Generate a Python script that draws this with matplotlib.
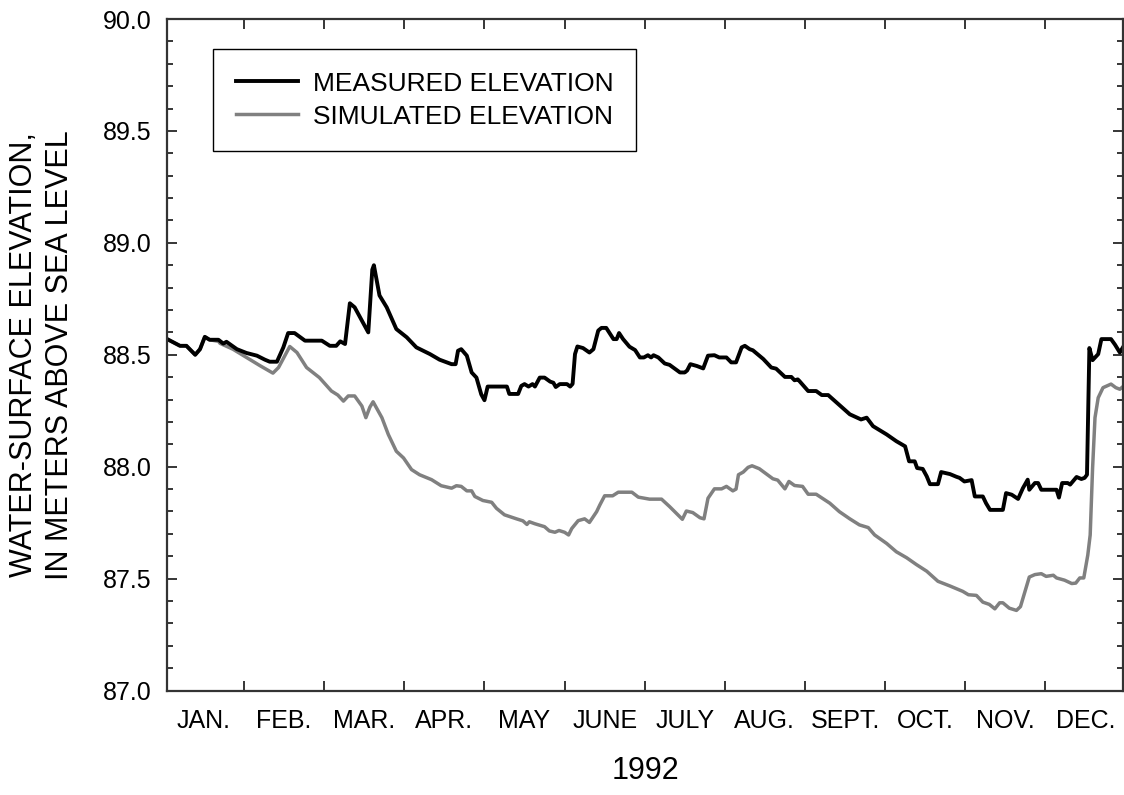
import matplotlib
matplotlib.use("Agg")
import matplotlib.pyplot as plt
from matplotlib.ticker import (FixedLocator, FixedFormatter, NullFormatter,
                               MultipleLocator, FormatStrFormatter)

# time axis is in months since Jan 1 (each month drawn with equal width)
months = ["JAN.", "FEB.", "MAR.", "APR.", "MAY", "JUNE", "JULY", "AUG.",
          "SEPT.", "OCT.", "NOV.", "DEC."]
year_label = "1992"

measured_t = [0.04, 0.20, 0.28, 0.39, 0.45, 0.51, 0.57, 0.68, 0.74, 0.78, 0.91,
              1.03, 1.16, 1.26, 1.32, 1.41, 1.49, 1.55, 1.63, 1.76, 1.97, 2.07,
              2.15, 2.20, 2.26, 2.32, 2.38, 2.47, 2.55, 2.60, 2.62, 2.69, 2.78,
              2.90, 3.03, 3.15, 3.32, 3.44, 3.59, 3.64, 3.67, 3.71, 3.78, 3.84,
              3.90, 3.96, 4.00, 4.04, 4.28, 4.31, 4.42, 4.46, 4.50, 4.55, 4.60,
              4.63, 4.69, 4.75, 4.82, 4.86, 4.89, 4.94, 5.03, 5.07, 5.10, 5.13,
              5.16, 5.23, 5.31, 5.36, 5.42, 5.46, 5.52, 5.61, 5.65, 5.68, 5.73,
              5.81, 5.88, 5.94, 5.99, 6.04, 6.08, 6.11, 6.17, 6.25, 6.31, 6.44,
              6.50, 6.53, 6.57, 6.65, 6.73, 6.79, 6.87, 6.93, 7.02, 7.08, 7.14,
              7.21, 7.25, 7.31, 7.35, 7.48, 7.58, 7.64, 7.75, 7.83, 7.87, 7.91,
              7.93, 8.04, 8.14, 8.21, 8.29, 8.56, 8.70, 8.77, 8.85, 9.02, 9.14,
              9.25, 9.30, 9.37, 9.40, 9.47, 9.52, 9.56, 9.66, 9.70, 9.81, 9.89,
              9.93, 9.99, 10.08, 10.12, 10.22, 10.26, 10.31, 10.47, 10.51, 10.58,
              10.66, 10.72, 10.78, 10.80, 10.87, 10.91, 10.95, 11.14, 11.17,
              11.21, 11.28, 11.31, 11.39, 11.45, 11.49, 11.52, 11.55, 11.59,
              11.66, 11.70, 11.82, 11.87, 11.93, 11.98]
measured_elev = [88.57, 88.54, 88.54, 88.50, 88.525, 88.58, 88.567, 88.567, 88.55,
                 88.558, 88.525, 88.508, 88.496, 88.478, 88.469, 88.469, 88.533,
                 88.597, 88.597, 88.563, 88.563, 88.54, 88.54, 88.56, 88.548,
                 88.73, 88.712, 88.653, 88.60, 88.88, 88.90, 88.765, 88.712,
                 88.615, 88.578, 88.533, 88.503, 88.478, 88.458, 88.458, 88.518,
                 88.525, 88.496, 88.421, 88.398, 88.323, 88.297, 88.358, 88.358,
                 88.325, 88.325, 88.361, 88.369, 88.358, 88.369, 88.358, 88.398,
                 88.398, 88.38, 88.375, 88.356, 88.369, 88.369, 88.358, 88.37,
                 88.503, 88.537, 88.53, 88.51, 88.525, 88.608, 88.62, 88.62,
                 88.57, 88.57, 88.597, 88.57, 88.536, 88.521, 88.488, 88.488,
                 88.498, 88.488, 88.498, 88.488, 88.461, 88.455, 88.421, 88.421,
                 88.43, 88.458, 88.45, 88.439, 88.496, 88.498, 88.488, 88.488,
                 88.466, 88.466, 88.533, 88.54, 88.525, 88.52, 88.481, 88.443,
                 88.438, 88.401, 88.401, 88.386, 88.39, 88.383, 88.338, 88.338,
                 88.32, 88.32, 88.234, 88.211, 88.219, 88.181, 88.144, 88.114,
                 88.091, 88.024, 88.024, 87.994, 87.99, 87.957, 87.922, 87.922,
                 87.976, 87.967, 87.955, 87.95, 87.934, 87.94, 87.867, 87.867,
                 87.837, 87.807, 87.807, 87.882, 87.875, 87.856, 87.904, 87.942,
                 87.897, 87.927, 87.927, 87.897, 87.897, 87.862, 87.927, 87.927,
                 87.92, 87.954, 87.945, 87.95, 87.964, 88.53, 88.476, 88.503,
                 88.57, 88.57, 88.545, 88.51, 88.54]

simulated_t = [0.04, 0.20, 0.28, 0.39, 0.45, 0.51, 0.57, 0.68, 0.70, 0.86, 1.03,
               1.20, 1.36, 1.43, 1.57, 1.66, 1.78, 1.94, 2.09, 2.17, 2.24, 2.30,
               2.38, 2.47, 2.52, 2.57, 2.61, 2.72, 2.80, 2.90, 2.99, 3.09, 3.19,
               3.34, 3.46, 3.59, 3.65, 3.71, 3.78, 3.84, 3.88, 3.98, 4.09, 4.15,
               4.25, 4.40, 4.48, 4.53, 4.56, 4.63, 4.75, 4.81, 4.88, 4.93, 5.00,
               5.05, 5.09, 5.17, 5.25, 5.31, 5.40, 5.44, 5.50, 5.60, 5.67, 5.84,
               5.92, 6.06, 6.21, 6.31, 6.47, 6.52, 6.60, 6.69, 6.74, 6.79, 6.87,
               6.96, 7.02, 7.10, 7.14, 7.17, 7.23, 7.29, 7.34, 7.43, 7.60, 7.66,
               7.75, 7.80, 7.87, 7.97, 8.04, 8.14, 8.31, 8.43, 8.56, 8.68, 8.79,
               8.87, 9.02, 9.14, 9.27, 9.39, 9.52, 9.66, 9.81, 9.97, 10.04, 10.14,
               10.22, 10.30, 10.37, 10.43, 10.47, 10.55, 10.64, 10.69, 10.80,
               10.87, 10.95, 11.01, 11.10, 11.14, 11.24, 11.33, 11.38, 11.43,
               11.48, 11.53, 11.56, 11.59, 11.62, 11.66, 11.72, 11.82, 11.88,
               11.93, 11.98]
simulated_elev = [88.57, 88.54, 88.54, 88.50, 88.525, 88.58, 88.567, 88.56, 88.551,
                  88.525, 88.488, 88.451, 88.418, 88.443, 88.537, 88.51, 88.443,
                  88.398, 88.338, 88.32, 88.293, 88.316, 88.316, 88.271, 88.219,
                  88.266, 88.29, 88.219, 88.144, 88.069, 88.039, 87.987, 87.964,
                  87.942, 87.915, 87.904, 87.915, 87.912, 87.892, 87.892, 87.867,
                  87.849, 87.841, 87.814, 87.785, 87.767, 87.758, 87.742, 87.754,
                  87.745, 87.732, 87.713, 87.707, 87.715, 87.707, 87.695, 87.724,
                  87.759, 87.767, 87.751, 87.799, 87.829, 87.87, 87.87, 87.886,
                  87.886, 87.864, 87.855, 87.855, 87.822, 87.765, 87.802, 87.795,
                  87.772, 87.767, 87.859, 87.901, 87.901, 87.912, 87.892, 87.90,
                  87.964, 87.976, 87.997, 88.004, 87.991, 87.946, 87.94, 87.901,
                  87.934, 87.916, 87.912, 87.877, 87.877, 87.837, 87.799, 87.767,
                  87.74, 87.728, 87.695, 87.657, 87.62, 87.593, 87.563, 87.533,
                  87.488, 87.467, 87.443, 87.428, 87.425, 87.395, 87.385, 87.365,
                  87.392, 87.392, 87.368, 87.358, 87.375, 87.507, 87.518, 87.522,
                  87.51, 87.515, 87.503, 87.493, 87.478, 87.48, 87.503, 87.503,
                  87.605, 87.695, 87.994, 88.219, 88.308, 88.353, 88.369, 88.353,
                  88.346, 88.361]

plt.rcParams["font.family"] = ["Liberation Sans", "DejaVu Sans"]

fig = plt.figure(figsize=(11.24, 7.95), dpi=100)
ax = fig.add_axes([0.1488, 0.1314, 0.8507, 0.8447])

sim_line, = ax.plot(simulated_t, simulated_elev, color="#808080", lw=2.5,
                    label="SIMULATED ELEVATION")
meas_line, = ax.plot(measured_t, measured_elev, color="black", lw=2.8,
                     label="MEASURED ELEVATION")

ax.set_xlim(0.041, 11.975)
ax.set_ylim(87.0, 90.0)

# month boundaries get tick marks, month names sit between them
ax.xaxis.set_major_locator(FixedLocator(list(range(1, 12))))
ax.xaxis.set_major_formatter(NullFormatter())
ax.xaxis.set_minor_locator(FixedLocator([i + 0.5 for i in range(12)]))
ax.xaxis.set_minor_formatter(FixedFormatter(months))
ax.tick_params(axis="x", which="major", direction="in", length=7, width=1.1,
               top=True)
ax.tick_params(axis="x", which="minor", direction="in", length=0, pad=13,
               labelsize=18)

ax.yaxis.set_major_locator(MultipleLocator(0.5))
ax.yaxis.set_minor_locator(MultipleLocator(0.1))
ax.yaxis.set_major_formatter(FormatStrFormatter("%.1f"))
ax.tick_params(axis="y", which="both", direction="in", right=True,
               labelsize=18, pad=11)
ax.tick_params(axis="y", which="major", length=7, width=1.1)
ax.tick_params(axis="y", which="minor", length=4.5, width=1.1)

for side in ax.spines.values():
    side.set_color("#333333")
    side.set_linewidth(1.6)

ax.set_xlabel(year_label, fontsize=22, labelpad=17)
ax.set_ylabel("WATER-SURFACE ELEVATION,\nIN METERS ABOVE SEA LEVEL", fontsize=22,
              linespacing=1.3)
ax.yaxis.set_label_coords(-0.096, 0.5)

leg = ax.legend([meas_line, sim_line], ["MEASURED ELEVATION", "SIMULATED ELEVATION"],
                loc="upper left", bbox_to_anchor=(0.0481, 0.9549), borderaxespad=0,
                fontsize=19, handlelength=2.35, handletextpad=0.57,
                labelspacing=0.34, borderpad=0.85, fancybox=False, framealpha=1)
leg.get_frame().set_edgecolor("black")
leg.get_frame().set_linewidth(1.0)

fig.savefig("out.png", dpi=100)
